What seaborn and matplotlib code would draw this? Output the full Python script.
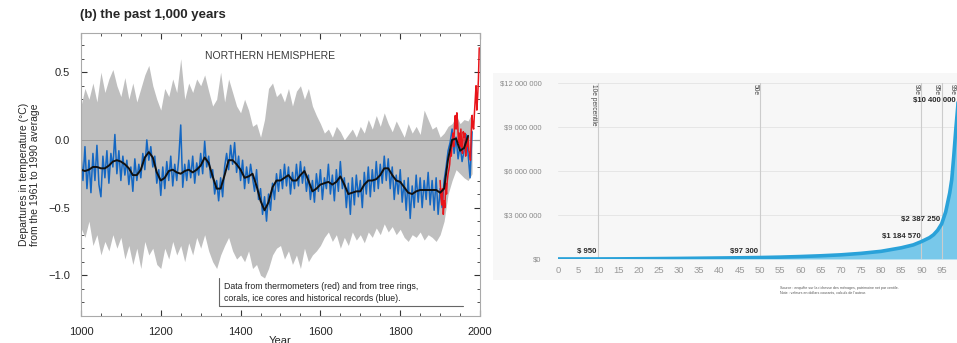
import numpy as np
import pandas as pd
import matplotlib
matplotlib.use("Agg")
import matplotlib.pyplot as plt
from matplotlib.ticker import MultipleLocator, FixedLocator
import seaborn as sns

# ---- panel (b): northern hemisphere, past 1000 years ----
blue_years = list(range(1000, 1981, 5))
blue_vals = [
    -0.12, -0.30, -0.05, -0.36, -0.15, -0.39, -0.10, -0.30, -0.04, -0.33,
    -0.42, -0.12, -0.28, -0.08, -0.32, -0.10, -0.20, 0.04, -0.25, -0.08,
    -0.30, -0.12, -0.26, -0.15, -0.33, -0.20, -0.38, -0.14, -0.30, -0.18,
    -0.28, -0.10, -0.22, 0.00, -0.15, -0.05, -0.20, -0.12, -0.32, -0.22,
    -0.41, -0.20, -0.36, -0.16, -0.30, -0.12, -0.34, -0.18, -0.30, -0.14,
    0.11, -0.35, -0.18, -0.30, -0.15, -0.28, -0.12, -0.32, -0.17, -0.26,
    -0.10, -0.25, -0.01, -0.20, -0.12, -0.28, -0.22, -0.40, -0.30, -0.45,
    -0.28, -0.42, -0.20, -0.10, -0.22, -0.04, -0.18, -0.02, -0.24, -0.12,
    -0.30, -0.15, -0.36, -0.20, -0.32, -0.18, -0.28, -0.38, -0.22, -0.44,
    -0.36, -0.55, -0.42, -0.60, -0.40, -0.52, -0.32, -0.44, -0.25, -0.38,
    -0.22, -0.36, -0.18, -0.34, -0.20, -0.40, -0.24, -0.36, -0.18, -0.34,
    -0.16, -0.32, -0.20, -0.38, -0.26, -0.44, -0.30, -0.46, -0.25, -0.38,
    -0.22, -0.44, -0.28, -0.36, -0.18, -0.40, -0.26, -0.45, -0.22, -0.38,
    -0.16, -0.36, -0.28, -0.50, -0.32, -0.55, -0.28, -0.48, -0.26, -0.42,
    -0.30, -0.50, -0.24, -0.40, -0.20, -0.42, -0.22, -0.38, -0.16, -0.36,
    -0.18, -0.32, -0.12, -0.30, -0.14, -0.36, -0.20, -0.44, -0.26, -0.40,
    -0.22, -0.46, -0.30, -0.52, -0.28, -0.58, -0.34, -0.50, -0.26, -0.46,
    -0.28, -0.50, -0.30, -0.44, -0.24, -0.48, -0.30, -0.52, -0.28, -0.55,
    -0.36, -0.50, -0.30, -0.20, -0.08, -0.02, 0.08, -0.10, 0.02, -0.14,
    -0.04, -0.16, -0.08, 0.04, -0.10, -0.28, 0.06,
]

smooth_years = list(range(1000, 1971, 10))
smooth_vals = [
    -0.22, -0.23, -0.22, -0.20, -0.20, -0.21, -0.21, -0.19, -0.16, -0.15,
    -0.16, -0.18, -0.21, -0.26, -0.26, -0.22, -0.13, -0.09, -0.13, -0.24,
    -0.30, -0.28, -0.23, -0.22, -0.24, -0.25, -0.23, -0.22, -0.24, -0.22,
    -0.19, -0.13, -0.17, -0.27, -0.36, -0.36, -0.26, -0.15, -0.15, -0.18,
    -0.22, -0.28, -0.27, -0.25, -0.34, -0.45, -0.52, -0.46, -0.35, -0.30,
    -0.30, -0.28, -0.26, -0.30, -0.30, -0.26, -0.23, -0.30, -0.38, -0.36,
    -0.33, -0.32, -0.31, -0.33, -0.31, -0.27, -0.33, -0.40, -0.39, -0.38,
    -0.38, -0.33, -0.30, -0.30, -0.29, -0.26, -0.21, -0.21, -0.26, -0.30,
    -0.31, -0.35, -0.39, -0.40, -0.38, -0.37, -0.37, -0.37, -0.37, -0.37,
    -0.39, -0.36, -0.14, 0.00, 0.01, -0.08, -0.06, 0.03,
]

band_years = list(range(1000, 1981, 10))
band_upper = [
    0.25, 0.38, 0.30, 0.42, 0.28, 0.50, 0.35, 0.45, 0.52, 0.40,
    0.32, 0.46, 0.30, 0.42, 0.28, 0.38, 0.48, 0.55, 0.40, 0.30,
    0.22, 0.38, 0.32, 0.45, 0.35, 0.60, 0.30, 0.42, 0.35, 0.45,
    0.40, 0.48, 0.36, 0.25, 0.30, 0.50, 0.28, 0.45, 0.35, 0.25,
    0.20, 0.30, 0.22, 0.10, 0.12, 0.02, 0.15, 0.38, 0.42, 0.32,
    0.35, 0.28, 0.38, 0.25, 0.36, 0.40, 0.30, 0.38, 0.25, 0.18,
    0.12, 0.05, 0.08, 0.02, 0.10, 0.06, 0.00, 0.04, 0.08, 0.02,
    0.10, 0.05, 0.15, 0.08, 0.18, 0.10, 0.20, 0.12, 0.06, 0.14,
    0.08, 0.02, 0.12, 0.05, 0.10, 0.04, 0.22, 0.15, 0.08, 0.10,
    0.02, 0.05, 0.10, 0.12, 0.18, 0.12, 0.15, 0.14, 0.20,
]
band_lower = [
    -0.65, -0.72, -0.60, -0.78, -0.70, -0.85, -0.75, -0.82, -0.70, -0.80,
    -0.72, -0.88, -0.78, -0.92, -0.80, -0.95, -0.75, -0.85, -0.80, -0.92,
    -0.95, -0.80, -0.88, -0.75, -0.85, -0.78, -0.90, -0.76, -0.85, -0.72,
    -0.80, -0.70, -0.82, -0.90, -0.95, -0.85, -0.78, -0.72, -0.82, -0.88,
    -0.85, -0.90, -0.82, -0.95, -0.92, -1.00, -1.02, -0.95, -0.85, -0.80,
    -0.78, -0.88, -0.82, -0.92, -0.85, -0.95, -0.80, -0.90, -0.85, -0.82,
    -0.78, -0.72, -0.68, -0.75, -0.70, -0.80, -0.72, -0.78, -0.68, -0.74,
    -0.70, -0.76, -0.68, -0.72, -0.65, -0.70, -0.62, -0.68, -0.64, -0.70,
    -0.66, -0.72, -0.75, -0.70, -0.72, -0.68, -0.74, -0.70, -0.72, -0.75,
    -0.70, -0.60, -0.40, -0.30, -0.22, -0.25, -0.28, -0.30, -0.25,
]

red_years = list(range(1900, 1999, 2))
red_vals = [
    -0.30, -0.42, -0.48, -0.36, -0.55, -0.45, -0.50, -0.32, -0.40, -0.30,
    -0.25, -0.22, -0.18, -0.08, -0.12, -0.02, 0.05, -0.05, 0.10, 0.18,
    0.08, 0.20, 0.12, -0.02, 0.05, -0.05, 0.08, -0.04, -0.10, 0.06,
    0.02, 0.05, -0.12, -0.02, -0.05, 0.02, -0.08, -0.10, -0.15, 0.05,
    0.18, 0.10, 0.08, 0.20, 0.30, 0.40, 0.22, 0.32, 0.45, 0.68,
]

# ---- right panel: wealth by percentile ----
pct = [0, 5, 10, 15, 20, 25, 30, 35, 40, 45, 50, 55, 60, 65, 70, 75, 80, 85,
       88, 90, 92, 93, 94, 95, 96, 97, 97.5, 98, 98.5, 99, 99.5]
wealth = [0, 200, 950, 6000, 15000, 25000, 36000, 50000, 65000, 80000, 97300,
          125000, 165000, 215000, 280000, 380000, 520000, 760000, 960000,
          1184570, 1450000, 1650000, 1950000, 2387250, 3200000, 4500000,
          5400000, 7000000, 8800000, 10400000, 13000000]
marker_pct = [10, 50, 90, 95, 99]
marker_names = ["10e percentile", "50e", "90e", "95e", "99e"]
value_labels = ["$ 950", "$97 300", "$1 184 570", "$2 387 250", "$10 400 000"]
ytick_vals = [0, 3000000, 6000000, 9000000, 12000000]
ytick_labels = ["$0", "$3 000 000", "$6 000 000", "$9 000 000", "$12 000 000"]

sns.set_style("ticks")
plt.rcParams["font.family"] = ["Liberation Sans", "DejaVu Sans"]

fig = plt.figure(figsize=(9.57, 3.43), dpi=100)

# left chart
ax = fig.add_axes([0.0846, 0.079, 0.417, 0.825])
ax.fill_between(band_years, band_lower, band_upper, color="#bfbfbf", lw=0)
ax.axhline(0, color="#9a9a9a", lw=0.7)
sns.lineplot(x=blue_years, y=blue_vals, ax=ax, color="#1467c2", lw=1.1)
sns.lineplot(x=red_years, y=red_vals, ax=ax, color="#e8141a", lw=1.1)
sns.lineplot(x=smooth_years, y=smooth_vals, ax=ax, color="#111111", lw=1.4)
ax.set_xlim(1000, 2000)
ax.set_ylim(-1.3, 0.79)
ax.xaxis.set_major_locator(MultipleLocator(200))
ax.xaxis.set_minor_locator(MultipleLocator(50))
ax.yaxis.set_major_locator(MultipleLocator(0.5))
ax.yaxis.set_minor_locator(MultipleLocator(0.1))
ax.tick_params(which="both", direction="in", top=True, right=True,
               color="#333333", labelsize=8, pad=8)
ax.tick_params(which="major", length=4)
ax.tick_params(which="minor", length=2)
ax.set_yticks([0.5, 0.0, -0.5, -1.0])
ax.set_yticklabels(["0.5", "0.0", "\u22120.5", "\u22121.0"])
for s in ax.spines.values():
    s.set_color("#aaaaaa")
    s.set_linewidth(0.8)
ax.set_xlabel("Year", fontsize=8, labelpad=-1)
ax.set_ylabel("Departures in temperature (\u00b0C)\nfrom the 1961 to 1990 average",
              fontsize=7.5, labelpad=6, linespacing=1.1)
ax.text(1474, 0.62, "NORTHERN HEMISPHERE", fontsize=7.5, color="#3a3a3a",
        ha="center", va="center")
ax.text(1358, -1.125, "Data from thermometers (red) and from tree rings,\n"
        "corals, ice cores and historical records (blue).",
        fontsize=6.3, color="#222222", ha="left", va="center", linespacing=1.4)
ax.plot([1346, 1346, 1957], [-1.02, -1.23, -1.23], color="#666666", lw=0.8)
fig.text(0.084, 0.955, "(b) the past 1,000 years", fontsize=9.5,
         fontweight="bold", ha="left", va="center")

# right chart background card
card = plt.Rectangle((0.515, 0.184), 0.485, 0.603, transform=fig.transFigure,
                     facecolor="#f7f7f7", edgecolor="none", zorder=-5)
fig.patches.append(card)

ax2 = fig.add_axes([0.583, 0.245, 0.417, 0.514])
ax2.set_facecolor("#f7f7f7")
df = pd.DataFrame({"percentile": pct, "wealth": wealth})
ax2.fill_between(df["percentile"], 0, df["wealth"], color="#78c8ea", lw=0)
sns.lineplot(data=df, x="percentile", y="wealth", ax=ax2, color="#2aa2d9", lw=2.6)
ax2.set_xlim(0, 98.8)
ax2.set_ylim(0, 12000000)
ax2.yaxis.set_major_locator(FixedLocator(ytick_vals))
ax2.set_yticklabels(ytick_labels)
ax2.set_xticks(list(range(0, 100, 5)))
ax2.grid(axis="y", color="#e6e6e6", lw=0.7)
ax2.set_axisbelow(True)
for s in ax2.spines.values():
    s.set_visible(False)
ax2.tick_params(axis="y", length=0, labelsize=5.5, labelcolor="#8a8a8a", pad=12)
ax2.tick_params(axis="x", length=0, labelsize=6.8, labelcolor="#999999", pad=5)
ax2.set_xlabel("")
ax2.set_ylabel("")
for p, name in zip(marker_pct, marker_names):
    ax2.axvline(p, color="#cccccc", lw=0.8, zorder=1)
    ax2.text(p - 0.4, 11900000, name, rotation=270, fontsize=4.8,
             color="#444444", ha="right", va="top")
lab_style = dict(fontsize=5.6, color="#2a2a2a", fontweight="semibold")
ax2.text(9.5, 250000, value_labels[0], ha="right", va="bottom", **lab_style)
ax2.text(49.5, 250000, value_labels[1], ha="right", va="bottom", **lab_style)
ax2.text(89.8, 1560000, value_labels[2], ha="right", va="center", **lab_style)
ax2.text(94.5, 2720000, value_labels[3], ha="right", va="center", **lab_style)
ax2.text(87.8, 10800000, value_labels[4], ha="left", va="center",
         clip_on=False, **lab_style)

fig.text(0.815, 0.155, "Source : enquête sur la richesse des ménages, patrimoine net par centile.\n"
         "Note : valeurs en dollars courants, calculs de l'auteur.",
         fontsize=2.6, color="#555555", ha="left", va="center")

fig.savefig("out.png", dpi=100)
